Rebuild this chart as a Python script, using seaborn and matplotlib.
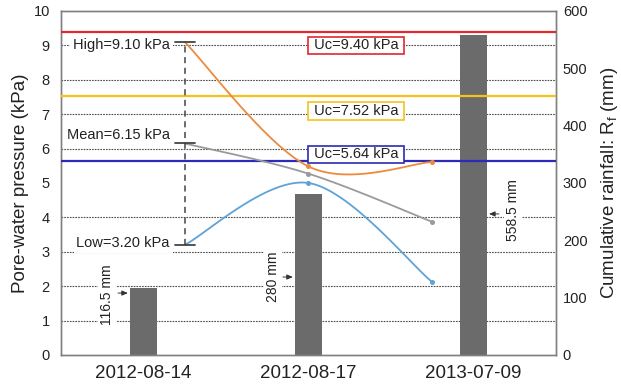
import numpy as np
import matplotlib
matplotlib.use("Agg")
import matplotlib.pyplot as plt
import seaborn as sns

# ---- data -------------------------------------------------------------
dates = ["2012-08-14", "2012-08-17", "2013-07-09"]
rain_mm = [116.5, 280.0, 558.5]
rain_labels = ["116.5 mm", "280 mm", "558.5 mm"]

pwp_high = [9.10, 5.48, 5.61]
pwp_mean = [6.15, 5.27, 3.87]
pwp_low = [3.20, 5.00, 2.12]

uc_values = [9.40, 7.52, 5.64]
uc_labels = ["Uc=9.40 kPa", "Uc=7.52 kPa", "Uc=5.64 kPa"]
uc_colors = ["#e0282e", "#f5c21a", "#2b2bb8"]

# ---- style ------------------------------------------------------------
sns.set_style("white")
plt.rcParams["font.family"] = ["Liberation Sans", "DejaVu Sans"]
plt.rcParams["mathtext.fontset"] = "custom"
plt.rcParams["mathtext.rm"] = "Liberation Sans"
plt.rcParams["mathtext.it"] = "Liberation Sans"

spine_c = "#808080"
text_c = "#222222"


def excel_smooth(x, y, n=40):
    """Bezier smoothing through the points (control arms = 1/6 chord)."""
    P = np.column_stack([x, y]).astype(float)
    Pe = np.vstack([P[0], P, P[-1]])
    t = np.linspace(0, 1, n)[:, None]
    out = []
    for i in range(len(P) - 1):
        p0, p1 = P[i], P[i + 1]
        c1 = p0 + (Pe[i + 2] - Pe[i]) / 6
        c2 = p1 - (Pe[i + 3] - Pe[i + 1]) / 6
        seg = (1 - t) ** 3 * p0 + 3 * (1 - t) ** 2 * t * c1 \
            + 3 * (1 - t) * t ** 2 * c2 + t ** 3 * p1
        out.append(seg if i == 0 else seg[1:])
    return np.vstack(out)


fig = plt.figure(figsize=(6.21, 3.87), dpi=100)
ax = fig.add_axes([0.0982, 0.0827, 0.797, 0.889])
ax2 = ax.twinx()
ax.set_zorder(ax2.get_zorder() + 1)
ax.patch.set_visible(False)

# ---- rainfall bars (right axis) ---------------------------------------
sns.barplot(x=dates, y=rain_mm, ax=ax2, color="#6b6b6b", saturation=1,
            width=0.165, edgecolor="none")
ax2.set_ylim(0, 600)
ax2.set_yticks(np.arange(0, 601, 100))
# dotted grid at every kPa (60 mm) on the rainfall axis, drawn below bars
ax2.set_yticks(np.arange(60, 600, 60), minor=True)
ax2.set_axisbelow(True)
ax2.grid(which="minor", axis="y", color="#4d4d4d", lw=0.8,
         linestyle=(0, (1.5, 1)))
ax2.grid(which="major", visible=False)
ax2.tick_params(axis="y", which="both", length=0, pad=5, labelsize=10.5,
                colors=text_c)
ax2.set_ylabel("Cumulative rainfall: R$_\\mathrm{f}$ (mm)", fontsize=13.5,
               color=text_c, labelpad=8)

# rotated value labels with arrows pointing at each bar
bar_half = 0.0825
label_dx = [-0.221, -0.215, 0.239]
label_y = [105, 136, 253]
arrow_y = [108, 136, 246]
for i, (lab, dx, ly, ay) in enumerate(zip(rain_labels, label_dx, label_y, arrow_y)):
    ax2.text(i + dx, ly, lab, rotation=90, ha="center", va="center",
             fontsize=10, color=text_c,
             bbox=dict(boxstyle="square,pad=0.15", fc="white", ec="none"))
    side = np.sign(dx)
    tip = i + side * (bar_half + 0.012)
    tail = i + side * (bar_half + 0.072)
    ax2.annotate("", xy=(tip, ay), xytext=(tail, ay),
                 arrowprops=dict(arrowstyle="-|>,head_length=0.35,head_width=0.15",
                                 color="#333333", lw=0.7, shrinkA=0, shrinkB=0))

# ---- pore-water pressure (left axis) ------------------------------------
ax.set_ylim(0, 10)
ax.set_xlim(-0.5, 2.5)
ax.set_yticks(np.arange(0, 11, 1))
ax.set_xticks(range(len(dates)))
ax.set_xticklabels(dates)
ax.tick_params(axis="y", length=0, pad=8, labelsize=10.5, colors=text_c)
ax.tick_params(axis="x", length=0, pad=7, labelsize=13.5, colors=text_c)
ax.set_ylabel("Pore-water pressure (kPa)", fontsize=13.5, color=text_c,
              labelpad=3)
ax.grid(False)

# critical pore-water pressure levels
uc_text_dy = [-0.40, -0.43, 0.19]
for val, lab, col, dy in zip(uc_values, uc_labels, uc_colors, uc_text_dy):
    ax.axhline(val, color=col, lw=1.6, zorder=3)
    ax.text(1.29, val + dy, " " + lab + " ", ha="center", va="center",
            fontsize=10.5, color=text_c, zorder=6,
            bbox=dict(boxstyle="square,pad=0.12", fc="white", ec=col, lw=1.2))

# measured series, placed between the rainfall bars
obs_x = 1 + (np.arange(3) - 1) * 0.75
series = [(pwp_high, "#ee8a3c"), (pwp_mean, "#9a9a9a"), (pwp_low, "#5ea3d8")]
for vals, col in series:
    curve = excel_smooth(obs_x, vals)
    sns.lineplot(x=curve[:, 0], y=curve[:, 1], ax=ax, sort=False,
                 estimator=None, color=col, lw=1.3, zorder=4)
    ax.plot(obs_x[1:], vals[1:], "o", ms=2.6, color=col, zorder=4)

# range bar on the first observation
x0 = obs_x[0]
ax.plot([x0, x0], [pwp_low[0], pwp_high[0]], color="#444444", lw=1.1,
        linestyle=(0, (4, 3)), zorder=5)
for v in (pwp_high[0], pwp_mean[0], pwp_low[0]):
    ax.plot([x0 - 0.06, x0 + 0.06], [v, v], color="#444444", lw=1.3, zorder=5)

range_labels = [("High=%.2f kPa" % pwp_high[0], pwp_high[0] - 0.10),
                ("Mean=%.2f kPa" % pwp_mean[0], pwp_mean[0] + 0.25),
                ("Low=%.2f kPa" % pwp_low[0], pwp_low[0] + 0.06)]
for lab, y in range_labels:
    ax.text(x0 - 0.09, y, lab, ha="right", va="center", fontsize=10.5,
            color=text_c, zorder=6,
            bbox=dict(boxstyle="square,pad=0.2", fc="white", ec="none"))

for a in (ax, ax2):
    for s in a.spines.values():
        s.set_color(spine_c)
        s.set_linewidth(1.0)

fig.savefig("out.png", dpi=100)
